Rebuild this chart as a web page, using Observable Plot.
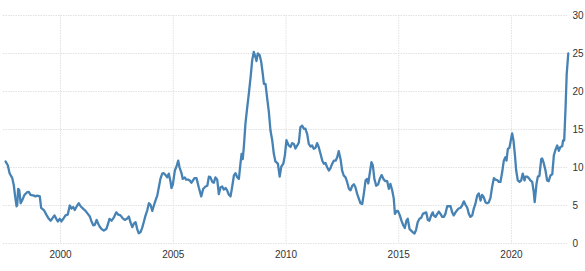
<!DOCTYPE html>
<html>
<head>
<meta charset="utf-8">
<script src="https://cdn.jsdelivr.net/npm/d3@7"></script>
<script src="https://cdn.jsdelivr.net/npm/@observablehq/plot@0.6"></script>
<style>
  html, body { margin: 0; padding: 0; background: #fff; }
  #chart svg { display: block; }
</style>
</head>
<body>
<div id="chart"></div>
<script>
const years = [
1997.56,1997.66,1997.74,1997.86,1997.93,1997.99,1998.05,1998.08,1998.12,1998.17,1998.23,1998.30,1998.40,1998.52,1998.59,1998.67,1998.82,1998.89,1998.97,1999.08,
1999.14,1999.26,1999.37,1999.48,1999.56,1999.66,1999.73,1999.81,1999.88,1999.97,2000.04,2000.12,2000.22,2000.32,2000.41,2000.49,2000.56,2000.63,2000.74,2000.81,
2000.89,2001.01,2001.11,2001.21,2001.30,2001.36,2001.45,2001.52,2001.60,2001.67,2001.74,2001.82,2001.92,2002.03,2002.12,2002.17,2002.26,2002.36,2002.47,2002.56,
2002.66,2002.76,2002.85,2002.96,2003.03,2003.10,2003.18,2003.25,2003.33,2003.40,2003.47,2003.55,2003.62,2003.69,2003.77,2003.84,2003.92,2003.99,2004.07,2004.14,
2004.21,2004.29,2004.36,2004.43,2004.51,2004.58,2004.66,2004.73,2004.80,2004.88,2004.92,2004.98,2005.07,2005.14,2005.22,2005.28,2005.37,2005.42,2005.51,2005.57,
2005.66,2005.73,2005.81,2005.94,2006.03,2006.13,2006.24,2006.33,2006.43,2006.51,2006.58,2006.65,2006.73,2006.80,2006.87,2006.95,2007.02,2007.10,2007.17,2007.24,
2007.32,2007.39,2007.46,2007.54,2007.61,2007.69,2007.76,2007.84,2007.91,2007.98,2008.03,2008.08,2008.13,2008.20,2008.28,2008.35,2008.43,2008.50,2008.57,2008.65,
2008.69,2008.75,2008.83,2008.90,2008.97,2009.02,2009.09,2009.17,2009.24,2009.31,2009.39,2009.46,2009.53,2009.64,2009.72,2009.79,2009.88,2009.95,2010.02,2010.12,
2010.20,2010.27,2010.35,2010.42,2010.50,2010.57,2010.64,2010.72,2010.79,2010.86,2010.94,2011.01,2011.09,2011.16,2011.23,2011.31,2011.38,2011.45,2011.53,2011.61,
2011.68,2011.75,2011.83,2011.90,2011.97,2012.05,2012.12,2012.20,2012.27,2012.34,2012.42,2012.49,2012.56,2012.64,2012.71,2012.79,2012.86,2012.94,2013.01,2013.08,
2013.16,2013.23,2013.30,2013.38,2013.45,2013.53,2013.60,2013.65,2013.70,2013.79,2013.85,2013.92,2014.00,2014.09,2014.16,2014.24,2014.34,2014.41,2014.49,2014.56,
2014.63,2014.71,2014.78,2014.83,2014.90,2014.96,2015.05,2015.12,2015.20,2015.27,2015.34,2015.40,2015.48,2015.55,2015.62,2015.70,2015.77,2015.84,2015.92,2016.00,
2016.07,2016.14,2016.22,2016.29,2016.36,2016.44,2016.51,2016.55,2016.63,2016.71,2016.78,2016.85,2016.93,2017.00,2017.07,2017.15,2017.22,2017.30,2017.37,2017.44,
2017.52,2017.59,2017.66,2017.74,2017.81,2017.89,2017.96,2018.04,2018.11,2018.18,2018.26,2018.33,2018.40,2018.48,2018.55,2018.63,2018.70,2018.77,2018.85,2018.92,
2018.99,2019.07,2019.14,2019.22,2019.29,2019.37,2019.44,2019.51,2019.59,2019.66,2019.73,2019.78,2019.84,2019.91,2019.97,2020.03,2020.09,2020.15,2020.21,2020.28,
2020.36,2020.43,2020.50,2020.58,2020.62,2020.70,2020.77,2020.84,2020.92,2020.99,2021.03,2021.11,2021.17,2021.24,2021.32,2021.36,2021.43,2021.51,2021.58,2021.65,
2021.73,2021.81,2021.88,2021.95,2022.03,2022.10,2022.17,2022.25,2022.29,2022.34,2022.40,2022.45,2022.52
];
const values = [
10.8,10.3,9.25,8.6,7.6,6.1,4.9,5.1,7.2,7.0,5.3,5.7,6.4,6.75,6.8,6.4,6.3,6.2,6.3,6.2,
4.7,4.4,3.8,3.25,3.0,3.4,3.7,3.25,2.9,3.25,2.9,3.25,3.7,3.8,5.0,4.6,4.8,4.4,5.0,5.3,
4.9,4.55,4.3,3.9,3.55,3.0,2.4,2.45,3.1,2.6,2.2,1.9,1.7,1.9,2.7,3.25,3.0,3.4,4.1,3.8,
3.7,3.3,3.1,3.3,3.55,2.8,2.15,2.6,2.8,1.9,1.35,1.5,2.05,2.8,3.7,4.3,5.3,5.1,4.3,5.0,
5.65,6.3,7.4,8.5,9.2,9.25,9.0,8.7,9.2,8.1,7.3,7.75,9.6,10.1,10.9,10.0,9.2,8.5,8.7,8.4,
8.4,8.3,8.0,8.6,8.6,7.4,6.2,7.2,7.5,7.6,8.8,8.7,8.1,8.0,8.7,8.4,6.5,7.4,7.5,7.1,
7.3,7.0,6.45,6.2,7.4,8.95,9.25,8.7,8.5,10.5,11.8,11.1,12.7,15.75,17.9,19.7,21.9,24.1,25.2,24.5,
24.0,25.0,24.8,23.9,22.3,21.0,21.0,19.0,17.3,14.9,13.55,11.8,10.8,10.5,8.8,10.1,10.5,11.6,13.6,12.9,
12.7,13.2,13.1,12.5,12.9,13.3,15.3,15.5,15.1,15.1,14.4,13.1,12.75,12.9,12.45,12.6,13.2,12.7,11.8,10.9,
10.5,10.6,10.0,9.6,9.9,10.5,10.9,10.9,11.35,12.15,11.1,9.6,8.95,8.7,8.1,7.2,7.0,7.6,7.8,7.4,
6.5,5.9,5.3,5.2,6.5,8.3,8.5,7.9,8.95,10.7,10.3,8.5,7.6,7.8,8.5,9.0,8.4,8.2,8.2,7.2,
7.85,7.0,5.9,3.9,4.25,4.3,3.7,3.0,2.4,2.05,3.0,3.25,1.9,1.7,1.5,1.3,1.8,2.8,3.25,3.4,
3.9,4.0,4.1,3.1,3.0,3.7,4.1,3.7,3.5,3.9,4.2,3.9,3.5,3.5,3.9,4.9,4.9,4.9,4.1,3.7,
4.1,4.4,4.6,4.7,5.0,5.55,5.1,4.7,3.9,3.5,3.7,4.6,5.2,6.3,6.6,5.65,6.4,6.1,5.4,5.3,
5.4,6.0,7.4,8.6,8.4,8.35,8.1,8.1,9.4,10.9,11.35,10.9,12.45,12.6,13.55,14.5,13.55,11.8,9.6,8.3,
8.1,8.3,9.2,8.3,8.8,8.8,8.6,8.3,8.1,6.75,5.45,7.85,8.8,8.9,11.1,11.2,10.6,9.6,8.3,8.2,
8.95,9.1,11.6,12.3,12.9,12.2,12.7,12.8,13.55,13.55,17.9,22.3,25.0
];
const xTicks = [2000, 2005, 2010, 2015, 2020];
const yTicks = [0, 5, 10, 15, 20, 25, 30];

const data = years.map((year, i) => ({year, value: values[i]}));

const chart = Plot.plot({
  width: 585,
  height: 271,
  marginTop: 15,
  marginBottom: 28,
  marginLeft: 3,
  marginRight: 17,
  style: {fontFamily: "'Liberation Sans', Arial, sans-serif", fontSize: "10px", color: "#333", background: "#fff"},
  x: {type: "linear", domain: [1997.47, 2022.53]},
  y: {domain: [0, 30]},
  marks: [
    Plot.gridY(yTicks, {stroke: "#e2e2e2", strokeOpacity: 1, strokeDasharray: "1.5,1"}),
    Plot.gridX(xTicks, {stroke: "#e2e2e2", strokeOpacity: 1, strokeDasharray: "1.5,1"}),
    Plot.axisX(xTicks, {tickSize: 0, tickPadding: 7, tickFormat: d => String(d), label: null, fill: "#333"}),
    Plot.axisY(yTicks, {anchor: "right", tickSize: 0, tickPadding: 4, label: null, fill: "#333"}),
    Plot.line(data, {x: "year", y: "value", stroke: "#4682b4", strokeWidth: 2.3, strokeLinejoin: "round"})
  ]
});
document.getElementById("chart").appendChild(chart);
</script>
</body>
</html>
